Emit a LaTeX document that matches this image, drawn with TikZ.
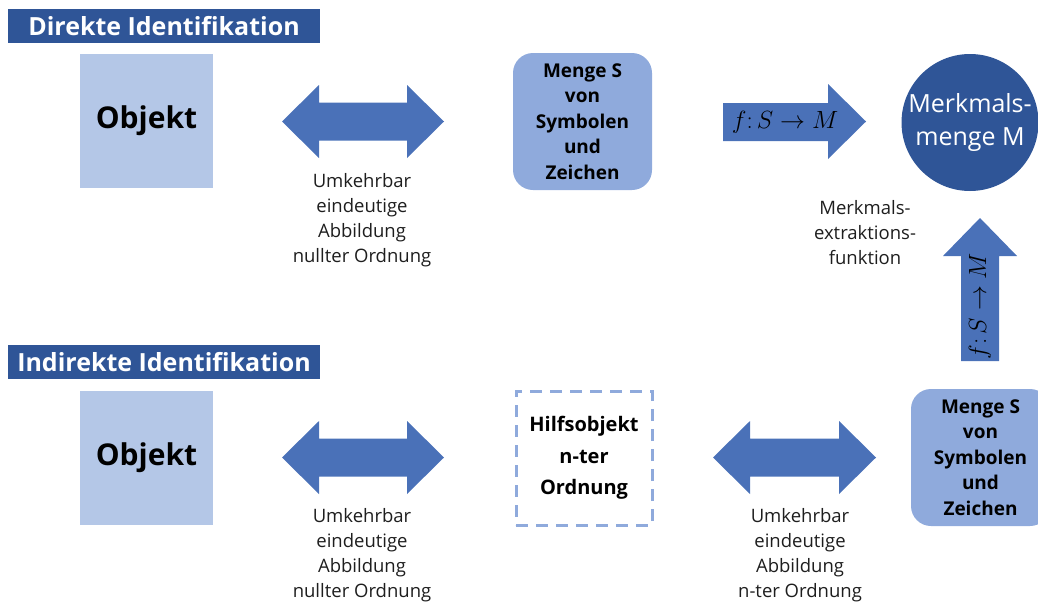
\documentclass[tikz,border=0pt]{standalone}
\usepackage{fontspec}
\setmainfont{Open Sans}
\definecolor{titleblue}{HTML}{2F5597}
\definecolor{arrowblue}{HTML}{4A71B8}
\definecolor{objfill}{HTML}{B4C7E7}
\definecolor{setfill}{HTML}{8FAADC}
\definecolor{textgray}{HTML}{1E1E1E}

% block double arrow: left tip x, right tip x, centre y
\newcommand{\biarrow}[3]{%
  \fill[arrowblue] (#1,#3) -- ++(37,-36.5) -- ++(0,17.5) -- (#2-37,#3-19)
    -- ++(0,-17.5) -- (#2,#3) -- (#2-37,#3+36.5) -- ++(0,-17.5)
    -- (#1+37,#3+19) -- ++(0,17.5) -- cycle;}

\begin{document}
\begin{tikzpicture}[x=1pt,y=-1pt,
  titlebox/.style={fill=titleblue,text=white,font=\bfseries\fontsize{25}{30}\selectfont,
    minimum width=312pt,minimum height=34pt,inner sep=0pt},
  objbox/.style={fill=objfill,minimum width=133pt,minimum height=134pt,inner sep=0pt,
    font=\bfseries\fontsize{30}{36}\selectfont},
  setbox/.style={fill=setfill,rounded corners=20pt,minimum width=139pt,minimum height=137pt,
    inner sep=0pt,align=center,font=\bfseries\fontsize{19}{25.5}\selectfont},
  caption/.style={align=center,text=textgray,font=\fontsize{18.5}{25}\selectfont,inner sep=0pt},
  mathlabel/.style={inner sep=0pt,font=\fontsize{25}{30}\selectfont},
]
\useasboundingbox (0,0) rectangle (1038,605);
\clip (0,0) rectangle (1038,605);

% ---- direct identification ----
\node[titlebox] (t1) at (164,26) {Direkte Identifikation};
\node[objbox] (o1) at (146.5,121) {\raisebox{-3pt}{Objekt}};
\biarrow{282}{444}{121.5}
\node[caption] (c1) at (362,220.5) {Umkehrbar\\eindeutige\\Abbildung\\nullter Ordnung};
\node[setbox] (s1) at (582.5,121.5) {Menge S\\von\\Symbolen\\und\\Zeichen};

% feature extraction arrow to the right
\fill[arrowblue] (723,103) -- (828,103) -- (828,84) -- (866,121.5) -- (828,159)
  -- (828,141) -- (723,141) -- cycle;
\node[mathlabel] (f1) at (785,122) {$f\colon S\to M$};

\node[circle,fill=titleblue,minimum size=137pt,inner sep=0pt,text=white,align=center,
  font=\fontsize{25}{33}\selectfont] (m) at (970,122.5) {Merkmals-\\menge M};
\node[caption] (c2) at (865,232.5) {Merkmals-\\extraktions-\\funktion};

% feature extraction arrow pointing up
\fill[arrowblue] (961,361) -- (961,256) -- (943,256) -- (980,218) -- (1017,256)
  -- (999,256) -- (999,361) -- cycle;
\node[mathlabel,rotate=90] (f2) at (980,306) {$f\colon S\to M$};

% ---- indirect identification ----
\node[titlebox] (t2) at (164,362) {Indirekte Identifikation};
\node[objbox] (o2) at (146.5,457.5) {\raisebox{-3pt}{Objekt}};
\biarrow{282}{444}{457.5}
\node[caption] (c3) at (362,555.5) {Umkehrbar\\eindeutige\\Abbildung\\nullter Ordnung};
\node[draw=setfill,line width=3pt,dash pattern=on 12pt off 8pt,minimum width=136pt,
  minimum height=134pt,inner sep=0pt,align=center,
  font=\bfseries\fontsize{20}{31.5}\selectfont] (h) at (584,458) {Hilfsobjekt\\n-ter\\Ordnung};
\biarrow{713}{876}{457.5}
\node[caption] (c4) at (800,555.5) {Umkehrbar\\eindeutige\\Abbildung\\n-ter Ordnung};
\node[setbox] (s2) at (980.5,457.5) {Menge S\\von\\Symbolen\\und\\Zeichen};
\end{tikzpicture}
\end{document}
